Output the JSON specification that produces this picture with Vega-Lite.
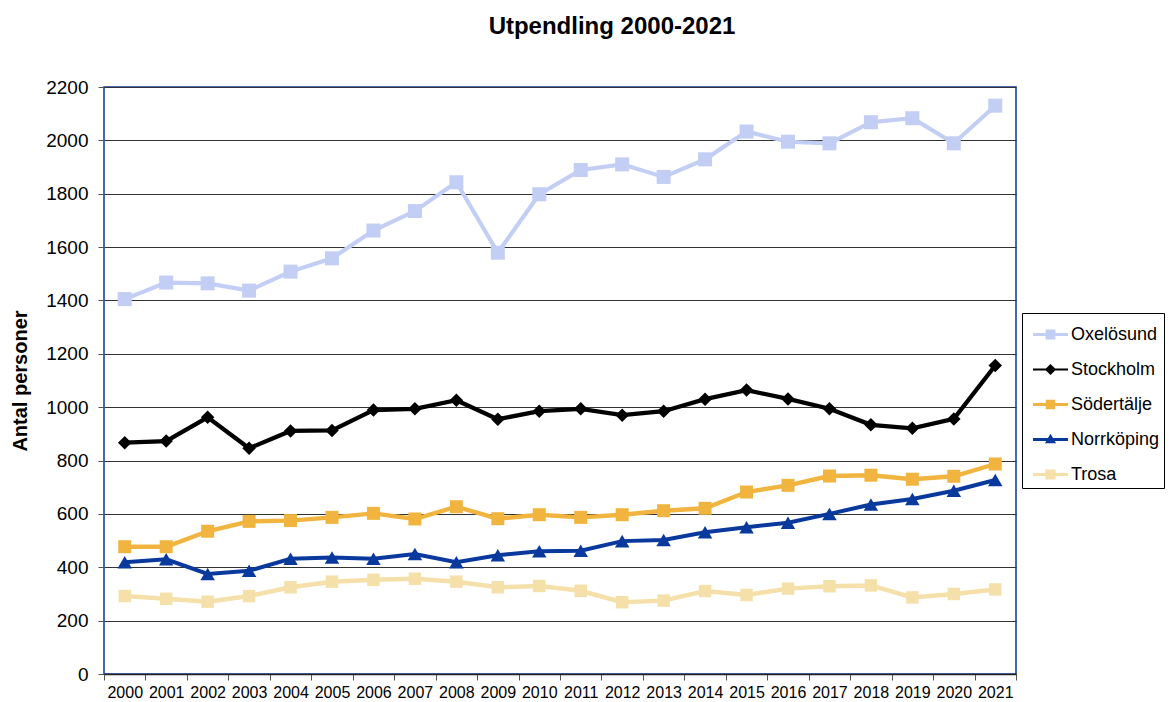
{
  "$schema": "https://vega.github.io/schema/vega-lite/v6.json",
  "width": 912,
  "height": 587,
  "autosize": "none",
  "padding": {"left": 104, "top": 87, "right": 156, "bottom": 28},
  "background": "white",
  "title": {"text": "Utpendling 2000-2021", "fontSize": 24, "fontWeight": "bold", "font": "Liberation Sans", "color": "black", "anchor": "middle", "dx": 52, "offset": 39},
  "data": {"values": [
    {"year":"2000","series":"Oxelösund","value":1405},{"year":"2001","series":"Oxelösund","value":1467},{"year":"2002","series":"Oxelösund","value":1464},{"year":"2003","series":"Oxelösund","value":1437},{"year":"2004","series":"Oxelösund","value":1508},{"year":"2005","series":"Oxelösund","value":1558},{"year":"2006","series":"Oxelösund","value":1662},{"year":"2007","series":"Oxelösund","value":1735},{"year":"2008","series":"Oxelösund","value":1843},{"year":"2009","series":"Oxelösund","value":1579},{"year":"2010","series":"Oxelösund","value":1798},{"year":"2011","series":"Oxelösund","value":1889},{"year":"2012","series":"Oxelösund","value":1910},{"year":"2013","series":"Oxelösund","value":1863},{"year":"2014","series":"Oxelösund","value":1929},{"year":"2015","series":"Oxelösund","value":2033},{"year":"2016","series":"Oxelösund","value":1995},{"year":"2017","series":"Oxelösund","value":1989},{"year":"2018","series":"Oxelösund","value":2068},{"year":"2019","series":"Oxelösund","value":2083},{"year":"2020","series":"Oxelösund","value":1989},{"year":"2021","series":"Oxelösund","value":2130},
    {"year":"2000","series":"Stockholm","value":867},{"year":"2001","series":"Stockholm","value":873},{"year":"2002","series":"Stockholm","value":962},{"year":"2003","series":"Stockholm","value":846},{"year":"2004","series":"Stockholm","value":911},{"year":"2005","series":"Stockholm","value":913},{"year":"2006","series":"Stockholm","value":989},{"year":"2007","series":"Stockholm","value":994},{"year":"2008","series":"Stockholm","value":1026},{"year":"2009","series":"Stockholm","value":955},{"year":"2010","series":"Stockholm","value":985},{"year":"2011","series":"Stockholm","value":994},{"year":"2012","series":"Stockholm","value":970},{"year":"2013","series":"Stockholm","value":985},{"year":"2014","series":"Stockholm","value":1030},{"year":"2015","series":"Stockholm","value":1064},{"year":"2016","series":"Stockholm","value":1031},{"year":"2017","series":"Stockholm","value":994},{"year":"2018","series":"Stockholm","value":934},{"year":"2019","series":"Stockholm","value":921},{"year":"2020","series":"Stockholm","value":956},{"year":"2021","series":"Stockholm","value":1156},
    {"year":"2000","series":"Södertälje","value":477},{"year":"2001","series":"Södertälje","value":477},{"year":"2002","series":"Södertälje","value":535},{"year":"2003","series":"Södertälje","value":572},{"year":"2004","series":"Södertälje","value":575},{"year":"2005","series":"Södertälje","value":587},{"year":"2006","series":"Södertälje","value":602},{"year":"2007","series":"Södertälje","value":581},{"year":"2008","series":"Södertälje","value":627},{"year":"2009","series":"Södertälje","value":582},{"year":"2010","series":"Södertälje","value":597},{"year":"2011","series":"Södertälje","value":587},{"year":"2012","series":"Södertälje","value":597},{"year":"2013","series":"Södertälje","value":612},{"year":"2014","series":"Södertälje","value":621},{"year":"2015","series":"Södertälje","value":682},{"year":"2016","series":"Södertälje","value":707},{"year":"2017","series":"Södertälje","value":742},{"year":"2018","series":"Södertälje","value":745},{"year":"2019","series":"Södertälje","value":730},{"year":"2020","series":"Södertälje","value":741},{"year":"2021","series":"Södertälje","value":787},
    {"year":"2000","series":"Norrköping","value":419},{"year":"2001","series":"Norrköping","value":430},{"year":"2002","series":"Norrköping","value":375},{"year":"2003","series":"Norrköping","value":387},{"year":"2004","series":"Norrköping","value":432},{"year":"2005","series":"Norrköping","value":437},{"year":"2006","series":"Norrköping","value":432},{"year":"2007","series":"Norrköping","value":450},{"year":"2008","series":"Norrköping","value":419},{"year":"2009","series":"Norrköping","value":445},{"year":"2010","series":"Norrköping","value":460},{"year":"2011","series":"Norrköping","value":462},{"year":"2012","series":"Norrköping","value":498},{"year":"2013","series":"Norrköping","value":502},{"year":"2014","series":"Norrköping","value":531},{"year":"2015","series":"Norrköping","value":550},{"year":"2016","series":"Norrköping","value":567},{"year":"2017","series":"Norrköping","value":600},{"year":"2018","series":"Norrköping","value":635},{"year":"2019","series":"Norrköping","value":656},{"year":"2020","series":"Norrköping","value":687},{"year":"2021","series":"Norrköping","value":727},
    {"year":"2000","series":"Trosa","value":292},{"year":"2001","series":"Trosa","value":282},{"year":"2002","series":"Trosa","value":271},{"year":"2003","series":"Trosa","value":292},{"year":"2004","series":"Trosa","value":325},{"year":"2005","series":"Trosa","value":346},{"year":"2006","series":"Trosa","value":353},{"year":"2007","series":"Trosa","value":357},{"year":"2008","series":"Trosa","value":346},{"year":"2009","series":"Trosa","value":325},{"year":"2010","series":"Trosa","value":330},{"year":"2011","series":"Trosa","value":312},{"year":"2012","series":"Trosa","value":269},{"year":"2013","series":"Trosa","value":275},{"year":"2014","series":"Trosa","value":311},{"year":"2015","series":"Trosa","value":296},{"year":"2016","series":"Trosa","value":320},{"year":"2017","series":"Trosa","value":329},{"year":"2018","series":"Trosa","value":332},{"year":"2019","series":"Trosa","value":287},{"year":"2020","series":"Trosa","value":300},{"year":"2021","series":"Trosa","value":317}
  ]},
  "encoding": {
    "x": {
      "field": "year", "type": "ordinal", "bandPosition": 0.5,
      "scale": {"type": "band", "paddingInner": 0, "paddingOuter": 0},
      "axis": {"title": null, "labelAngle": 0, "labelFontSize": 16, "labelColor": "black", "tickBand": "extent", "tickSize": 6, "tickColor": "#555", "domainColor": "#222", "domainWidth": 1.5, "grid": false, "labelPadding": 4}
    },
    "y": {
      "field": "value", "type": "quantitative",
      "scale": {"domain": [0, 2200], "nice": false},
      "axis": {"title": "Antal personer", "titleFontSize": 20, "titleFontWeight": "bold", "titleColor": "black", "labelFontSize": 19, "labelColor": "black", "format": "d", "values": [0,200,400,600,800,1000,1200,1400,1600,1800,2000,2200], "grid": true, "gridColor": "#333", "gridWidth": 1, "domain": false, "tickColor": "#555", "tickSize": 6, "labelPadding": 10, "titlePadding": 15}
    }
  },
  "layer": [
    {
      "mark": {"type": "line"},
      "encoding": {
        "detail": {"field": "series"},
        "stroke": {"field": "series", "type": "nominal", "legend": null,
          "scale": {"range": ["#0a399e","#c2cef4","#000000","#f1b43e","#f5e0aa"]}},
        "strokeWidth": {"field": "series", "type": "nominal", "legend": null,
          "scale": {"range": [4, 4.5, 3, 4, 4.5]}}
      }
    },
    {
      "mark": {"type": "point", "filled": true, "opacity": 1, "strokeWidth": 0},
      "encoding": {
        "fill": {"field": "series", "type": "nominal", "legend": null,
          "scale": {"range": ["#0a399e","#c2cef4","#000000","#f1b43e","#f5e0aa"]}},
        "shape": {"field": "series", "type": "nominal", "legend": null,
          "scale": {"range": ["triangle-up","square","diamond","square","square"]}},
        "size": {"field": "series", "type": "nominal", "legend": null,
          "scale": {"range": [210, 155, 170, 155, 155]}}
      }
    },
    {
      "transform": [{"filter": "datum.value < 0"}],
      "mark": {"type": "point", "filled": true, "opacity": 1},
      "encoding": {
        "color": {"field": "series", "type": "nominal",
          "scale": {"domain": ["Oxelösund","Stockholm","Södertälje","Norrköping","Trosa"], "range": ["#c2cef4","#000000","#f1b43e","#0a399e","#f5e0aa"]},
          "legend": {
            "title": null, "orient": "none", "legendX": 918, "legendY": 226,
            "strokeColor": "black", "fillColor": "white", "padding": 4,
            "symbolSize": 1225, "symbolOffset": 7, "symbolStrokeWidth": 0,
            "labelFontSize": 18, "labelColor": "black", "labelOffset": 3, "rowPadding": 8
          }
        },
        "shape": {"field": "series", "type": "nominal",
          "scale": {"domain": ["Oxelösund","Stockholm","Södertälje","Norrköping","Trosa"], "range": [
            "M-1,-0.086H1V0.086H-1Z M-0.28,-0.28H0.28V0.28H-0.28Z",
            "M-1,-0.06H1V0.06H-1Z M0,-0.32L0.32,0L0,0.32L-0.32,0Z",
            "M-1,-0.086H1V0.086H-1Z M-0.27,-0.27H0.27V0.27H-0.27Z",
            "M-1,-0.086H1V0.086H-1Z M0,-0.33L0.32,0.22H-0.32Z",
            "M-1,-0.086H1V0.086H-1Z M-0.29,-0.29H0.29V0.29H-0.29Z"
          ]},
          "legend": {
            "title": null, "orient": "none", "legendX": 918, "legendY": 226,
            "strokeColor": "black", "fillColor": "white", "padding": 4,
            "symbolSize": 1225, "symbolOffset": 7, "symbolStrokeWidth": 0,
            "labelFontSize": 18, "labelColor": "black", "labelOffset": 3, "rowPadding": 8
          }
        }
      }
    }
  ],
  "resolve": {"scale": {"shape": "independent", "color": "independent"}},
  "config": {
    "font": "Liberation Sans",
    "view": {"stroke": "#0b36a0", "strokeWidth": 1.5}
  }
}
